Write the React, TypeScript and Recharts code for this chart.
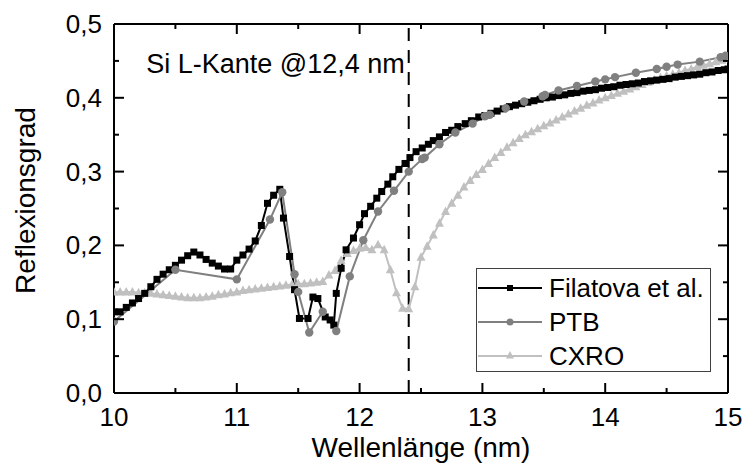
import React from "react";
import {
  LineChart,
  Line,
  XAxis,
  YAxis,
  ReferenceLine,
  Legend,
} from "recharts";

const FONT = "'Liberation Sans', Arial, sans-serif";

// Filatova et al. (black squares)
const filatovaX = [
  10.0, 10.05, 10.1, 10.15, 10.2, 10.25, 10.3, 10.35, 10.4, 10.45, 10.5, 10.55, 10.6, 10.65, 10.7, 10.75,
  10.8, 10.85, 10.9, 10.95, 11.0, 11.05, 11.1, 11.15, 11.2, 11.25, 11.3, 11.35, 11.38, 11.43, 11.47, 11.51,
  11.58, 11.62, 11.66, 11.72, 11.76, 11.79, 11.81, 11.85, 11.89, 11.95, 12.0, 12.04, 12.09, 12.14, 12.18,
  12.23, 12.27, 12.32, 12.37, 12.41, 12.46, 12.51, 12.56, 12.6, 12.65, 12.7, 12.75, 12.8, 12.86, 12.91,
  12.97, 13.02, 13.07, 13.12, 13.17, 13.22, 13.27, 13.32, 13.37, 13.42, 13.47, 13.52, 13.57, 13.62, 13.67,
  13.72, 13.77, 13.82, 13.87, 13.92, 13.97, 14.02, 14.07, 14.12, 14.17, 14.22, 14.27, 14.32, 14.37, 14.42,
  14.47, 14.52, 14.57, 14.62, 14.67, 14.72, 14.77, 14.82, 14.87, 14.92, 14.97, 15.0,
];
const filatovaR = [
  0.11, 0.11, 0.116, 0.122, 0.128, 0.135, 0.144, 0.154, 0.161, 0.167, 0.173, 0.18, 0.186, 0.191, 0.187, 0.181,
  0.176, 0.172, 0.168, 0.168, 0.18, 0.187, 0.195, 0.206, 0.227, 0.257, 0.268, 0.276, 0.237, 0.185, 0.14, 0.101,
  0.101, 0.13, 0.128, 0.103, 0.099, 0.092, 0.135, 0.169, 0.194, 0.21, 0.228, 0.243, 0.253, 0.264, 0.273,
  0.283, 0.293, 0.303, 0.311, 0.319, 0.327, 0.332, 0.337, 0.342, 0.347, 0.353, 0.356, 0.361, 0.365, 0.369,
  0.374, 0.376, 0.379, 0.382, 0.385, 0.388, 0.39, 0.392, 0.394, 0.396, 0.398, 0.4, 0.401, 0.403, 0.404,
  0.406, 0.407, 0.409, 0.41, 0.411, 0.413, 0.414, 0.415, 0.417, 0.418, 0.419, 0.42, 0.422, 0.423, 0.424,
  0.425, 0.426, 0.428, 0.429, 0.43, 0.431, 0.432, 0.434, 0.435, 0.437, 0.438, 0.439,
];

// PTB (grey circles)
const ptbX = [
  10.0, 10.5, 11.0, 11.27, 11.37, 11.47, 11.5, 11.59, 11.7, 11.81, 11.92, 12.03, 12.15, 12.28, 12.4, 12.51,
  12.53, 12.65, 12.78, 12.92, 13.02, 13.06, 13.19, 13.34, 13.49, 13.51, 13.62, 13.77, 13.92, 14.0, 14.08,
  14.25, 14.42, 14.5, 14.59, 14.77, 14.94, 14.98,
];
const ptbR = [
  0.097, 0.167, 0.154, 0.235, 0.272, 0.161, 0.137, 0.082, 0.11, 0.084, 0.158, 0.207, 0.246, 0.274, 0.3, 0.317,
  0.319, 0.337, 0.353, 0.365, 0.375, 0.377, 0.386, 0.395, 0.402, 0.404, 0.41, 0.416, 0.422, 0.425, 0.428,
  0.434, 0.439, 0.442, 0.445, 0.449, 0.455, 0.457,
];

// CXRO (light grey triangles)
const cxroX = [
  10.0, 10.05, 10.1, 10.15, 10.2, 10.25, 10.3, 10.35, 10.4, 10.45, 10.5, 10.55, 10.6, 10.65, 10.7, 10.75,
  10.8, 10.85, 10.9, 10.95, 11.0, 11.05, 11.1, 11.15, 11.2, 11.25, 11.3, 11.35, 11.4, 11.45, 11.5, 11.55,
  11.6, 11.65, 11.7, 11.75, 11.8, 11.85, 11.9, 11.95, 12.0, 12.05, 12.1, 12.15, 12.2, 12.25, 12.3, 12.35,
  12.4, 12.45, 12.5, 12.55, 12.6, 12.65, 12.7, 12.75, 12.8, 12.85, 12.9, 12.95, 13.0, 13.05, 13.1, 13.15,
  13.2, 13.25, 13.3, 13.35, 13.4, 13.45, 13.5, 13.55, 13.6, 13.65, 13.7, 13.75, 13.8, 13.85, 13.9, 13.95,
  14.0, 14.05, 14.1, 14.15, 14.2, 14.25, 14.3, 14.35, 14.4, 14.45, 14.5, 14.55, 14.6, 14.65, 14.7, 14.75,
  14.8, 14.85, 14.9, 14.95, 15.0,
];
const cxroR = [
  0.137, 0.137, 0.137, 0.137, 0.136, 0.136, 0.135, 0.134, 0.133, 0.132, 0.131, 0.13, 0.129, 0.129, 0.129, 0.13,
  0.131, 0.133, 0.134, 0.136, 0.137, 0.139, 0.14, 0.141, 0.142, 0.143, 0.144, 0.145, 0.146, 0.147, 0.148, 0.148,
  0.149, 0.15, 0.151, 0.16, 0.166, 0.18, 0.189, 0.193, 0.196, 0.197, 0.194, 0.201, 0.194, 0.167, 0.136, 0.115,
  0.114, 0.144, 0.184, 0.199, 0.214, 0.23, 0.246, 0.257, 0.268, 0.279, 0.288, 0.296, 0.303, 0.311, 0.319, 0.326,
  0.333, 0.339, 0.345, 0.35, 0.354, 0.358, 0.362, 0.366, 0.37, 0.374, 0.378, 0.382, 0.386, 0.39, 0.393, 0.397,
  0.4, 0.403, 0.406, 0.409, 0.412, 0.415, 0.418, 0.421, 0.424, 0.427, 0.43, 0.432, 0.434, 0.437, 0.439, 0.442,
  0.444, 0.446, 0.449, 0.451, 0.453,
];

const xTicks = [10, 10.5, 11, 11.5, 12, 12.5, 13, 13.5, 14, 14.5, 15];
const yTicks = [0, 0.05, 0.1, 0.15, 0.2, 0.25, 0.3, 0.35, 0.4, 0.45, 0.5];
const edgeX = 12.4;

const toPoints = (xs: number[], ys: number[]) => xs.map((x, i) => ({ x, y: ys[i] }));
const filatova = toPoints(filatovaX, filatovaR);
const ptb = toPoints(ptbX, ptbR);
const cxro = toPoints(cxroX, cxroR);

const isMajorX = (v: number) => Number.isInteger(v);
const isMajorY = (v: number) => Math.abs(v * 10 - Math.round(v * 10)) < 1e-6;
const fmtY = (v: number) => v.toFixed(1).replace(".", ",");

const SquareDot = (props: any) => {
  const { cx, cy, index } = props;
  return <rect key={`sq-${index}`} x={cx - 3.5} y={cy - 3.5} width={7} height={7} fill="#000" />;
};
const CircleDot = (props: any) => {
  const { cx, cy, index } = props;
  return <circle key={`ci-${index}`} cx={cx} cy={cy} r={4.2} fill="#808080" />;
};
const TriangleDot = (props: any) => {
  const { cx, cy, index } = props;
  return (
    <polygon
      key={`tr-${index}`}
      points={`${cx},${cy - 5} ${cx - 4.5},${cy + 3.5} ${cx + 4.5},${cy + 3.5}`}
      fill="#c0c0c0"
    />
  );
};

const BottomTick = ({ x, y, payload }: any) => {
  const major = isMajorX(payload.value);
  return (
    <g>
      <line x1={x} x2={x} y1={y} y2={y - (major ? 10 : 5)} stroke="#000" strokeWidth={2} />
      {major && (
        <text x={x} y={y + 33} textAnchor="middle" fontSize={26} fill="#000" fontFamily={FONT}>
          {payload.value}
        </text>
      )}
    </g>
  );
};
const TopTick = ({ x, y, payload }: any) => {
  const major = isMajorX(payload.value);
  return <line x1={x} x2={x} y1={y} y2={y + (major ? 10 : 5)} stroke="#000" strokeWidth={2} />;
};
const LeftTick = ({ x, y, payload }: any) => {
  const major = isMajorY(payload.value);
  return (
    <g>
      <line x1={x} x2={x + (major ? 10 : 5)} y1={y} y2={y} stroke="#000" strokeWidth={2} />
      {major && (
        <text x={x - 12} y={y + 9} textAnchor="end" fontSize={26} fill="#000" fontFamily={FONT}>
          {fmtY(payload.value)}
        </text>
      )}
    </g>
  );
};
const RightTick = ({ x, y, payload }: any) => {
  const major = isMajorY(payload.value);
  return <line x1={x} x2={x - (major ? 10 : 5)} y1={y} y2={y} stroke="#000" strokeWidth={2} />;
};

const XTitle = ({ viewBox }: any) => (
  <text x={viewBox.x + viewBox.width / 2} y={viewBox.y + 64} textAnchor="middle" fontSize={28} fill="#000" fontFamily={FONT}>
    Wellenlänge (nm)
  </text>
);
const YTitle = ({ viewBox }: any) => {
  const cx = viewBox.x + 21;
  const cy = viewBox.y + viewBox.height / 2 - 8;
  return (
    <text x={cx} y={cy} transform={`rotate(-90, ${cx}, ${cy})`} textAnchor="middle" fontSize={28} fill="#000" fontFamily={FONT}>
      Reflexionsgrad
    </text>
  );
};
const EdgeLabel = ({ viewBox }: any) => (
  <text x={viewBox.x - 4} y={viewBox.y + 49} textAnchor="end" fontSize={27} fill="#000" fontFamily={FONT}>
    Si L-Kante @12,4 nm
  </text>
);

const legendItems = [
  { name: "Filatova et al.", color: "#000", shape: "square" },
  { name: "PTB", color: "#808080", shape: "circle" },
  { name: "CXRO", color: "#c0c0c0", shape: "triangle" },
];

const LegendBox = () => (
  <div
    style={{
      width: 235,
      height: 104,
      border: "1px solid #404040",
      boxSizing: "border-box",
      background: "#fff",
      paddingTop: 2,
      fontFamily: FONT,
    }}
  >
    {legendItems.map((it) => (
      <div key={it.name} style={{ display: "flex", alignItems: "center", height: 34 }}>
        <svg width={66} height={20} style={{ marginLeft: 1 }}>
          <line x1={0} x2={64} y1={10} y2={10} stroke={it.color} strokeWidth={2} />
          {it.shape === "square" && <rect x={29} y={7} width={6} height={6} fill={it.color} />}
          {it.shape === "circle" && <circle cx={32} cy={10} r={3.5} fill={it.color} />}
          {it.shape === "triangle" && <polygon points="32,5 28,12.5 36,12.5" fill={it.color} />}
        </svg>
        <span style={{ fontSize: 26, color: "#000", marginLeft: 5, lineHeight: "34px" }}>{it.name}</span>
      </div>
    ))}
  </div>
);

const App = () => {
  const axisLine = { stroke: "#000", strokeWidth: 2 };
  return (
    <div style={{ position: "absolute", left: 0, top: 0, width: 745, height: 471, background: "#fff" }}>
      <LineChart
        width={745}
        height={471}
        margin={{ top: 23, right: 16, bottom: 18, left: 14 }}
        style={{ fontFamily: FONT }}
      >
        <XAxis
          xAxisId="bottom"
          dataKey="x"
          type="number"
          domain={[10, 15]}
          ticks={xTicks}
          interval={0}
          allowDataOverflow
          height={60}
          tickSize={0}
          tickMargin={0}
          tickLine={false}
          axisLine={axisLine}
          tick={<BottomTick />}
          label={<XTitle />}
        />
        <XAxis
          xAxisId="top"
          orientation="top"
          dataKey="x"
          type="number"
          domain={[10, 15]}
          ticks={xTicks}
          interval={0}
          allowDataOverflow
          height={1}
          tickSize={0}
          tickMargin={0}
          tickLine={false}
          axisLine={axisLine}
          tick={<TopTick />}
        />
        <YAxis
          yAxisId="left"
          type="number"
          domain={[0, 0.5]}
          ticks={yTicks}
          interval={0}
          allowDataOverflow
          width={100}
          tickSize={0}
          tickMargin={0}
          tickLine={false}
          axisLine={axisLine}
          tick={<LeftTick />}
          label={<YTitle />}
        />
        <YAxis
          yAxisId="right"
          orientation="right"
          type="number"
          domain={[0, 0.5]}
          ticks={yTicks}
          interval={0}
          allowDataOverflow
          width={1}
          tickSize={0}
          tickMargin={0}
          tickLine={false}
          axisLine={axisLine}
          tick={<RightTick />}
        />
        <ReferenceLine
          xAxisId="bottom"
          yAxisId="left"
          x={edgeX}
          stroke="#000"
          strokeWidth={2}
          strokeDasharray="13 9"
          label={<EdgeLabel />}
        />
        <Line
          xAxisId="bottom"
          yAxisId="left"
          data={cxro}
          dataKey="y"
          name="CXRO"
          stroke="#c0c0c0"
          strokeWidth={2}
          dot={TriangleDot}
          isAnimationActive={false}
        />
        <Line
          xAxisId="bottom"
          yAxisId="left"
          data={filatova}
          dataKey="y"
          name="Filatova et al."
          stroke="#000"
          strokeWidth={2}
          dot={SquareDot}
          isAnimationActive={false}
        />
        <Line
          xAxisId="bottom"
          yAxisId="left"
          data={ptb}
          dataKey="y"
          name="PTB"
          stroke="#808080"
          strokeWidth={2}
          dot={CircleDot}
          isAnimationActive={false}
        />
        <Legend
          layout="horizontal"
          verticalAlign="middle"
          align="center"
          content={<LegendBox />}
          wrapperStyle={{ left: 476, top: 268, width: 235, height: 104 }}
        />
      </LineChart>
    </div>
  );
};

export default App;
